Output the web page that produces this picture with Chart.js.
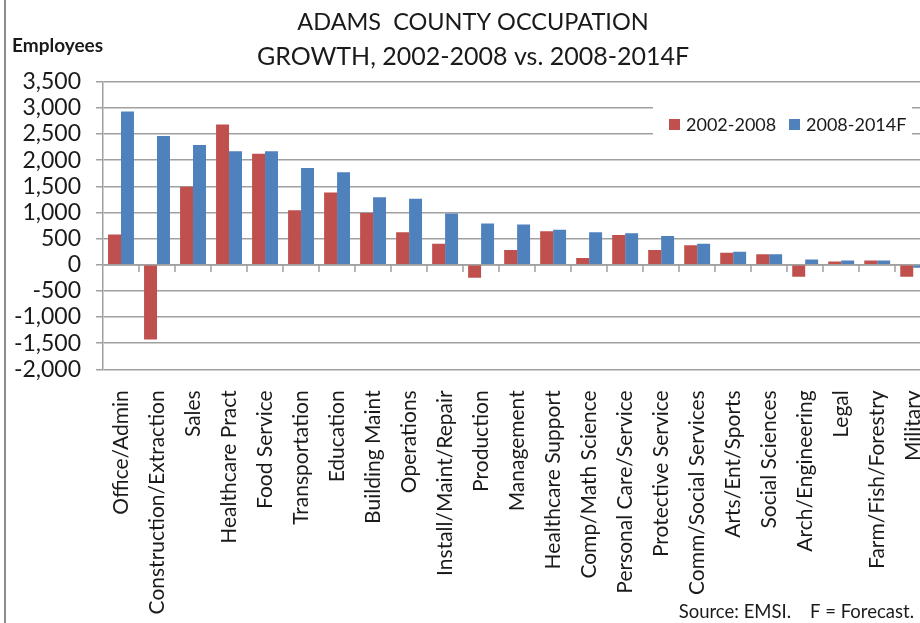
<!DOCTYPE html>
<html>
<head>
<meta charset="utf-8">
<script src="https://cdn.jsdelivr.net/npm/chart.js@4.4.0/dist/chart.umd.min.js"></script>
<style>
  html, body { margin: 0; padding: 0; background: #fff; overflow: hidden; }
  #wrap { position: absolute; left: 0; top: 0; width: 960px; height: 623px; }
</style>
</head>
<body>
<div id="wrap"><canvas id="chart" width="960" height="623"></canvas></div>
<script>
const categories = [
  "Office/Admin", "Construction/Extraction", "Sales", "Healthcare Pract", "Food Service",
  "Transportation", "Education", "Building Maint", "Operations", "Install/Maint/Repair",
  "Production", "Management", "Healthcare Support", "Comp/Math Science", "Personal Care/Service",
  "Protective Service", "Comm/Social Services", "Arts/Ent/Sports", "Social Sciences",
  "Arch/Engineering", "Legal", "Farm/Fish/Forestry", "Military"
];
const growth0208 = [580, -1430, 1490, 2680, 2120, 1040, 1380, 990, 620, 400, -250, 280, 640, 130, 570, 280, 370, 230, 200, -230, 60, 80, -230];
const growth0814 = [2930, 2460, 2290, 2170, 2170, 1850, 1770, 1290, 1260, 980, 790, 770, 670, 620, 600, 550, 400, 250, 200, 100, 80, 80, -60];
const seriesNames = ["2002-2008", "2008-2014F"];
const yMin = -2000, yMax = 3500, yStep = 500;
const titleLines = ["ADAMS  COUNTY OCCUPATION", "GROWTH, 2002-2008 vs. 2008-2014F"];
const yAxisTitle = "Employees";
const sourceNote = "Source: EMSI.    F = Forecast.";

const RED = "#C0504D";
const BLUE = "#4F81BD";
const GRID = "#a0a0a0";
const FONT = 'Lato, "Open Sans", sans-serif';

Chart.defaults.font.family = FONT;
Chart.defaults.color = "#1a1a1a";

// titles, legend box, zero line ticks, left frame
const decorations = {
  id: "decorations",
  beforeDatasetsDraw(chart) {
    const { ctx, scales: { x, y } } = chart;
    const zero = Math.round(y.getPixelForValue(0));
    const step = x.width / categories.length;
    ctx.save();
    ctx.strokeStyle = GRID;
    ctx.lineWidth = 1.5;
    ctx.beginPath();
    ctx.moveTo(x.left, zero);
    ctx.lineTo(x.right, zero);
    for (let i = 1; i <= categories.length; i++) {
      const px = Math.round(x.left + i * step);
      ctx.moveTo(px, zero);
      ctx.lineTo(px, zero + 7);
    }
    ctx.stroke();
    ctx.restore();
  },
  afterDraw(chart) {
    const { ctx } = chart;
    ctx.save();
    // frame on the left
    ctx.fillStyle = "#8c8c8c";
    ctx.fillRect(4, 0, 2, chart.height);

    ctx.fillStyle = "#1a1a1a";
    ctx.textAlign = "center";
    ctx.textBaseline = "middle";
    ctx.font = "23.5px " + FONT;
    ctx.fillText(titleLines[0], 473, 22);
    ctx.font = "25px " + FONT;
    ctx.fillText(titleLines[1], 473, 57);

    ctx.textAlign = "left";
    ctx.font = "bold 19px " + FONT;
    ctx.fillText(yAxisTitle, 12, 46);

    ctx.textAlign = "right";
    ctx.textBaseline = "alphabetic";
    ctx.font = "18.5px " + FONT;
    ctx.fillText(sourceNote, 914, 618);

    // legend inside the plot
    ctx.fillStyle = "#fff";
    ctx.fillRect(653, 105, 259, 32);
    ctx.font = "18px " + FONT;
    ctx.textAlign = "left";
    ctx.textBaseline = "middle";
    const items = [[RED, 669, 686], [BLUE, 789, 806]];
    items.forEach(([color, sx, tx], i) => {
      ctx.fillStyle = color;
      ctx.fillRect(sx, 119, 11, 11);
      ctx.fillStyle = "#1a1a1a";
      ctx.fillText(seriesNames[i], tx, 125);
    });
    ctx.restore();
  }
};

new Chart(document.getElementById("chart"), {
  type: "bar",
  data: {
    labels: categories,
    datasets: [
      { label: seriesNames[0], data: growth0208, backgroundColor: RED },
      { label: seriesNames[1], data: growth0814, backgroundColor: BLUE }
    ]
  },
  options: {
    responsive: false,
    animation: false,
    layout: { padding: { left: 0, top: 81.7, right: 26.7, bottom: 0 } },
    datasets: { bar: { categoryPercentage: 0.72, barPercentage: 1 } },
    plugins: { legend: { display: false }, title: { display: false }, tooltip: { enabled: false } },
    scales: {
      x: {
        grid: { display: false, drawTicks: false },
        border: { display: false },
        ticks: {
          autoSkip: false, minRotation: 90, maxRotation: 90, padding: 21,
          font: { size: 21 }, color: "#1a1a1a"
        },
        afterFit(scale) { scale.height = 253.7; }
      },
      y: {
        min: yMin, max: yMax,
        grid: { color: GRID, tickLength: 7, lineWidth: 1.5 },
        border: { display: true, color: GRID, width: 1.5 },
        ticks: {
          stepSize: yStep, autoSkip: false, padding: 15, font: { size: 23 }, color: "#1a1a1a",
          callback: (v) => v.toLocaleString("en-US")
        },
        afterFit(scale) { scale.width = 103; }
      }
    }
  },
  plugins: [decorations]
});
</script>
</body>
</html>
